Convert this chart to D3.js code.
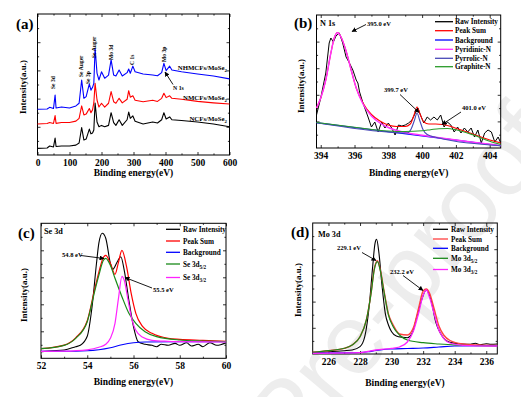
<!DOCTYPE html>
<html>
<head>
<meta charset="utf-8">
<script src="https://cdn.jsdelivr.net/npm/d3@7"></script>
<style>
body { margin: 0; background: #fff; }
svg text { font-family: "Liberation Serif", "Times New Roman", serif; font-weight: bold; fill: #000; }
svg text.wm { font-family: "Liberation Sans", Arial, sans-serif; font-weight: normal; fill: #ededed; }
</style>
</head>
<body>
<script>
// ---------- (a) survey spectra ----------
var surveyEnergy = [0, 30, 38, 50, 55, 58, 75, 100, 120, 130, 138, 145, 152, 162, 167, 172, 176, 180, 186, 192,
	200, 210, 222, 230, 238, 245, 255, 265, 280, 285, 290, 298, 305, 330, 360, 375, 388, 395, 402, 413,
	420, 450, 500, 550, 600];
var surveyNCF = [4.7, 5, 6.4, 5.7, 12, 6, 6.4, 6.4, 7, 8.5, 19.5, 10.6, 11.3, 18.4, 15, 15.6, 17.7, 36.8, 23.4, 20,
	21, 20, 21, 30, 23, 21, 25, 21, 25, 30.5, 26, 27.7, 24, 22, 23.4, 22.7, 25, 30, 25.5, 27,
	25, 24.5, 23.4, 22, 20];
var surveyNMCF = [22, 22.3, 23, 22.4, 27.9, 22.4, 23, 23, 24, 26, 34.8, 28.4, 29, 33, 30, 32, 36.9, 50.8, 39, 34,
	36.7, 34, 36.7, 45, 37.8, 36.7, 40.2, 37, 39.5, 45.6, 41, 42, 38.8, 37.8, 38.8, 38, 40.2, 43.8, 40.7, 42,
	40.2, 39.5, 38, 37, 36.2];
var surveyNHMCF = [32.4, 32.6, 33.8, 33, 42.5, 33.3, 34, 33.3, 34.8, 36.7, 53.2, 40.2, 41.4, 50.4, 46, 48, 50.8, 75.7, 58, 53.2,
	59, 54.4, 56.7, 67.4, 56.7, 56, 60.3, 56, 58.4, 61, 58, 63, 59, 57.4, 56.7, 56.2, 58.4, 65, 59.8, 63,
	60.3, 59, 57.4, 56, 54];
var surveyTicks = [0, 100, 200, 300, 400, 500, 600];
var surveyPeakLabels = ["Se 3d", "Se Auger", "Se 3p", "Se Auger", "Mo 3d", "C 1s", "Mo 3p"];
var surveyPeakEnergy = [50, 136, 158, 178, 230, 295, 395];

// ---------- (b) N 1s ----------
var n1sRawE = [393.75, 394.0, 394.3, 394.5, 394.6, 394.75, 394.9, 395.1, 395.3, 395.5, 395.7, 395.9, 396.1, 396.2, 396.3,
	396.5, 396.8, 397.0, 397.2, 397.4, 397.6, 397.8, 398.0, 398.2, 398.4, 398.6, 398.8, 399.0, 399.2, 399.4,
	399.6, 399.75, 399.9, 400.1, 400.3, 400.5, 400.7, 400.9, 401.1, 401.3, 401.5, 401.7, 401.9, 402.1, 402.3,
	402.5, 402.7, 402.9, 403.1, 403.3, 403.5, 403.7, 403.9, 404.1, 404.3, 404.5, 404.65];
var n1sRaw = [33, 50, 75, 105, 110, 106, 112, 115, 105, 91, 85, 78, 68, 65, 56,
	45, 31, 21, 26, 16, 26, 20, 25, 20, 13, 23, 22, 23, 25, 28,
	35, 40, 33, 25, 31, 28, 31, 28, 33, 21, 26, 23, 16, 21, 15,
	20, 16, 20, 11, 18, 5, 15, 18, 16, 6, 11, 5];
var n1sSumE = [393.75, 394, 394.3, 394.6, 394.8, 395, 395.2, 395.5, 395.8, 396.1, 396.5, 397, 397.5, 398, 398.5,
	399, 399.3, 399.5, 399.7, 399.9, 400.1, 400.4, 400.8, 401.2, 401.6, 402, 403, 404, 404.65];
var n1sSum = [40, 50, 68, 95, 110, 115.5, 111, 97, 78, 60, 45, 33.5, 27, 23, 21.5,
	21.5, 24, 32, 41, 33, 26, 24, 24, 23.5, 22, 19.8, 14, 8, 5];
var n1sBgE = [393.75, 396, 398, 400, 402, 404.65];
var n1sBg = [25.3, 20.5, 16.3, 12.1, 7.9, 2.3];
var n1sPyridinicE = [393.75, 394, 394.3, 394.6, 394.8, 395, 395.2, 395.5, 395.8, 396.1, 396.5, 397, 397.5, 398, 398.5,
	399, 400, 401, 402, 403, 404, 404.65];
var n1sPyridinic = [40, 50, 68, 95, 110, 115.3, 111, 97, 78, 60, 44, 32, 25, 20.5, 17.5,
	15.5, 12.8, 10.3, 8, 5.8, 3.7, 2.4];
var n1sPyrrolicE = [393.75, 398.5, 399.1, 399.35, 399.55, 399.7, 399.85, 400.05, 400.3, 400.8, 404.65];
var n1sPyrrolic = [25.3, 15.4, 15, 19, 28, 35, 28, 18.5, 13.5, 10.7, 2.3];
var n1sGraphiteE = [393.75, 396, 398, 399, 400, 400.5, 401, 401.5, 402, 403, 404, 404.65];
var n1sGraphite = [25.5, 20.8, 17, 16.5, 17.3, 18.3, 19.3, 19.5, 18.2, 13.2, 6.8, 3.5];
var n1sTicks = [394, 396, 398, 400, 402, 404];
var n1sLegend = ["Raw Intensity", "Peak Sum", "Background", "Pyridinic-N", "Pyrrolic-N", "Graphite-N"];

// ---------- (c) Se 3d ----------
var seRawE = [52, 52.5, 53, 53.5, 53.7, 54.0, 54.2, 54.4, 54.5, 54.65, 54.8, 55.0, 55.1, 55.3, 55.45, 55.6, 55.8,
	56.0, 56.2, 56.5, 56.8, 57.0, 57.2, 57.5, 57.8, 58.0, 58.3, 58.5, 58.8, 59.0, 59.3, 59.6, 60];
var seRaw = [6.6, 7.5, 8.3, 11.6, 13, 22, 50, 95, 115, 125, 120, 95, 89, 96.6, 101.6, 88, 58,
	31.6, 16.6, 14, 13, 11.6, 14, 13, 14.9, 13, 15.6, 12.3, 14, 11.6, 15.6, 13, 15.6];
var seSumE = [52, 53, 53.5, 54, 54.3, 54.5, 54.7, 54.8, 55.0, 55.2, 55.35, 55.5, 55.7, 55.9, 56.1, 56.4, 56.8, 57.5, 58, 59, 60];
var seSum = [9.6, 13.2, 20.5, 37.6, 67, 86, 101, 103, 95, 84, 96, 108, 91.6, 65, 45, 31.6, 25, 20, 19, 18, 17];
var seBgE = [52, 53, 54, 54.5, 55, 55.5, 56, 56.5, 58, 60];
var seBg = [7, 7, 7.5, 8.5, 10.5, 13.5, 15.5, 16.3, 16.5, 16.6];
var se52E = [52, 53, 53.5, 54, 54.3, 54.5, 54.7, 54.8, 55.0, 55.2, 55.5, 55.8, 56.1, 56.5, 57, 58, 59, 60];
var se52 = [9.6, 13, 20, 36.6, 65, 83, 98, 100, 93, 80, 61.6, 45, 35, 26.6, 21.6, 18.3, 17.3, 16.6];
var se32E = [52, 53, 54, 54.5, 54.8, 55.0, 55.2, 55.35, 55.5, 55.6, 55.75, 55.9, 56.1, 56.4, 56.8, 57.5, 58, 60];
var se32 = [7, 7.2, 8.5, 11, 14, 20, 35, 60, 82, 78, 60, 42, 28, 21, 18, 17, 16.6, 16.3];
var seTicks = [52, 54, 56, 58, 60];

// ---------- (d) Mo 3d ----------
var moRawE = [225, 226, 227, 227.5, 228, 228.3, 228.6, 228.8, 228.95, 229.05, 229.2, 229.4, 229.6, 229.8, 230, 230.3, 230.7,
	231, 231.3, 231.6, 231.9, 232.2, 232.5, 232.8, 233.1, 233.5, 234, 234.5, 235, 235.3, 235.6, 236, 236.3, 236.7];
var moRaw = [1.7, 2.3, 3.3, 4, 7.3, 17.3, 50.7, 87.3, 110.7, 114.7, 100.7, 67.3, 40.7, 29, 22.3, 18, 16.7,
	16.3, 20.7, 37.3, 54, 64, 54, 32, 20.7, 13, 10.7, 10, 9.7, 10.7, 9.3, 10.3, 9.7, 10];
var moSumE = [225, 226, 227, 227.5, 228, 228.4, 228.7, 228.9, 229.1, 229.3, 229.5, 229.8, 230.1, 230.5, 231, 231.4,
	231.7, 232.0, 232.2, 232.4, 232.7, 233.0, 233.3, 233.7, 234.5, 235.5, 236.7];
var moSum = [1.7, 3.3, 5.7, 9, 17.3, 34, 61, 85, 93.3, 83, 65, 40, 29, 20, 19, 27,
	45, 63, 65, 61, 45, 28, 19, 13.5, 10, 9, 8.5];
var moBgE = [225, 227, 228, 228.5, 229, 229.5, 230, 231, 232, 233, 234, 236.7];
var moBg = [1, 1.2, 1.5, 2.2, 3.5, 4.5, 5, 5.5, 6, 7, 8, 8.3];
var mo52E = [225, 226, 227, 227.5, 228, 228.4, 228.7, 228.9, 229.1, 229.3, 229.5, 229.8, 230.1, 230.5, 231, 232, 233, 234, 236.7];
var mo52 = [1.7, 3.3, 5.7, 9, 17.3, 34, 60.7, 84, 92.3, 82.3, 64, 39, 27.3, 19, 14, 11.3, 10, 9, 8];
var mo32E = [225, 228, 229, 230, 230.5, 231, 231.4, 231.7, 232.0, 232.2, 232.4, 232.7, 233.0, 233.3, 233.7, 234.5, 236.7];
var mo32 = [0.7, 1.3, 4, 5.7, 7, 12, 23.7, 40, 58.7, 64, 57, 40, 23.7, 15.7, 11, 8.7, 8];
var moTicks = [226, 228, 230, 232, 234, 236];

var W = 521, H = 397;
var svg = d3.select("body").append("svg").attr("width", W).attr("height", H);
svg.append("rect").attr("width", W).attr("height", H).attr("fill", "#fff");

svg.append("defs").append("marker")
	.attr("id", "arrow").attr("viewBox", "0 0 10 10")
	.attr("refX", 9).attr("refY", 5)
	.attr("markerWidth", 5.5).attr("markerHeight", 5.5)
	.attr("orient", "auto")
	.append("path").attr("d", "M0,0L10,5L0,10z").attr("fill", "#000");

// faint watermark behind the plots
svg.append("text").attr("class", "wm")
	.attr("transform", "translate(64,734) rotate(-50)")
	.attr("font-size", 100)
	.text("Journal Pre-proofs");

function panel(p) {
	var x = d3.scaleLinear().domain(p.xDomain).range([p.left, p.right]);
	var y = d3.scaleLinear().domain(p.yDomain).range([p.bottom, p.top]);
	var g = svg.append("g");
	var yMajor = d3.range(1, 5).map(function (i) { return p.yDomain[0] + (p.yDomain[1] - p.yDomain[0]) * i / 5; });
	var yMinor = d3.range(0, 5).map(function (i) { return p.yDomain[0] + (p.yDomain[1] - p.yDomain[0]) * (i + 0.5) / 5; });

	var bottom = g.append("g").attr("transform", "translate(0," + p.bottom + ")")
		.call(d3.axisBottom(x).tickValues(p.xTicks).tickSizeInner(-3).tickSizeOuter(0).tickPadding(4).tickFormat(d3.format("d")));
	bottom.attr("font-size", 9.5);
	g.append("g").attr("transform", "translate(0," + p.bottom + ")")
		.call(d3.axisBottom(x).tickValues(p.xMinor).tickSizeInner(-1.6).tickSizeOuter(0).tickFormat(""));
	g.append("g").attr("transform", "translate(0," + p.top + ")")
		.call(d3.axisTop(x).tickValues(p.xTicks).tickSizeInner(-3).tickSizeOuter(0).tickFormat(""));
	g.append("g").attr("transform", "translate(0," + p.top + ")")
		.call(d3.axisTop(x).tickValues(p.xMinor).tickSizeInner(-1.6).tickSizeOuter(0).tickFormat(""));
	g.append("g").attr("transform", "translate(" + p.left + ",0)")
		.call(d3.axisLeft(y).tickValues(yMajor).tickSizeInner(-3).tickSizeOuter(0).tickFormat(""));
	g.append("g").attr("transform", "translate(" + p.left + ",0)")
		.call(d3.axisLeft(y).tickValues(yMinor).tickSizeInner(-1.6).tickSizeOuter(0).tickFormat(""));
	g.append("g").attr("transform", "translate(" + p.right + ",0)")
		.call(d3.axisRight(y).tickValues(yMajor).tickSizeInner(-3).tickSizeOuter(0).tickFormat(""));
	g.append("g").attr("transform", "translate(" + p.right + ",0)")
		.call(d3.axisRight(y).tickValues(yMinor).tickSizeInner(-1.6).tickSizeOuter(0).tickFormat(""));
	g.selectAll(".domain").remove();
	g.selectAll(".tick line").attr("stroke", "#000").attr("stroke-width", 0.8);

	g.append("rect")
		.attr("x", p.left).attr("y", p.top)
		.attr("width", p.right - p.left).attr("height", p.bottom - p.top)
		.attr("fill", "none").attr("stroke", "#000").attr("stroke-width", 1);

	// axis titles and panel letter
	g.append("text").attr("x", (p.left + p.right) / 2).attr("y", p.xTitleY)
		.attr("text-anchor", "middle").attr("font-size", 9.5).text("Binding energy(eV)");
	g.append("text").attr("transform", "translate(" + p.yTitleX + "," + p.yTitleY + ") rotate(-90)")
		.attr("text-anchor", "middle").attr("dy", "0.35em").attr("font-size", 9).text("Intensity(a.u.)");
	g.append("text").attr("x", p.letterX).attr("y", p.letterY).attr("font-size", 15).text(p.letter);

	var curves = g.append("g");
	return { g: g, curves: curves, x: x, y: y };
}

function drawLine(pn, xs, ys, color, smooth, width) {
	var line = d3.line()
		.x(function (d) { return pn.x(d[0]); })
		.y(function (d) { return pn.y(d[1]); })
		.curve(smooth ? d3.curveMonotoneX : d3.curveLinear);
	pn.curves.append("path").datum(d3.zip(xs, ys))
		.attr("d", line).attr("fill", "none")
		.attr("stroke", color).attr("stroke-width", width || 1.1)
		.attr("stroke-linejoin", "round");
}

function label(g, x, y, txt, size, sub, anchor) {
	var t = g.append("text").attr("x", x).attr("y", y).attr("font-size", size)
		.attr("text-anchor", anchor || "start");
	t.append("tspan").text(txt);
	if (sub) t.append("tspan").attr("dy", size * 0.3).attr("font-size", size * 0.72).text(sub);
	return t;
}

function arrow(g, x1, y1, x2, y2) {
	g.append("line").attr("x1", x1).attr("y1", y1).attr("x2", x2).attr("y2", y2)
		.attr("stroke", "#000").attr("stroke-width", 0.9).attr("marker-end", "url(#arrow)");
}

function legend(pn, x0, x1, tx, rows, names, subs, colors) {
	names.forEach(function (n, i) {
		pn.g.append("line").attr("x1", x0).attr("x2", x1).attr("y1", rows[i]).attr("y2", rows[i])
			.attr("stroke", colors[i]).attr("stroke-width", 1.3);
		var t = label(pn.g, tx, rows[i], n, 7.2, subs ? subs[i] : null);
		t.attr("dy", "0.35em");
	});
}

// ---------- panel (a) ----------
var pa = panel({ left: 37.5, right: 229.5, top: 14, bottom: 155, xDomain: [0, 600], yDomain: [0, 100],
	xTicks: surveyTicks, xMinor: [50, 150, 250, 350, 450, 550],
	xTitleY: 176, yTitleX: 23, yTitleY: 87, letter: "(a)", letterX: 16, letterY: 29 });
drawLine(pa, surveyEnergy, surveyNCF, "#000", false, 1.1);
drawLine(pa, surveyEnergy, surveyNMCF, "#ff0000", false, 1.1);
drawLine(pa, surveyEnergy, surveyNHMCF, "#0000ff", false, 1.1);
var peakBottom = [89, 77, 84, 58, 60, 65, 62];
surveyPeakLabels.forEach(function (n, i) {
	pa.g.append("text")
		.attr("transform", "translate(" + pa.x(surveyPeakEnergy[i]) + "," + peakBottom[i] + ") rotate(-90)")
		.attr("dy", "0.35em").attr("font-size", 5.6).text(n);
});
label(pa.g, 227, 69.5, "NHMCFs/MoSe", 6.8, "2", "end");
label(pa.g, 227, 99.5, "NMCFs/MoSe", 6.8, "2", "end");
label(pa.g, 227, 121, "NCFs/MoSe", 6.8, "2", "end");
label(pa.g, 173, 90, "N 1s", 5.8);
arrow(pa.g, 173, 84.5, 165, 72);

// ---------- panel (b) ----------
var pb = panel({ left: 316.5, right: 500.7, top: 15, bottom: 148, xDomain: [393.75, 404.65], yDomain: [0, 133],
	xTicks: n1sTicks, xMinor: [395, 397, 399, 401, 403],
	xTitleY: 176, yTitleX: 301, yTitleY: 86, letter: "(b)", letterX: 294, letterY: 28 });
drawLine(pb, n1sRawE, n1sRaw, "#000", false, 1);
drawLine(pb, n1sSumE, n1sSum, "#ff0000", true);
drawLine(pb, n1sBgE, n1sBg, "#0000ff", true);
drawLine(pb, n1sPyridinicE, n1sPyridinic, "#ff33ff", true, 1.4);
drawLine(pb, n1sPyrrolicE, n1sPyrrolic, "#4848b8", true);
drawLine(pb, n1sGraphiteE, n1sGraphite, "#2a9a2a", true);
label(pb.g, 320, 26, "N 1s", 8.2);
label(pb.g, 367, 25.5, "395.0 eV", 6.5);
arrow(pb.g, 366, 24.5, 352, 31.5);
label(pb.g, 384, 92, "399.7 eV", 6.5);
arrow(pb.g, 400, 94.5, 419, 112.5);
label(pb.g, 462, 110, "401.0 eV", 6.5);
arrow(pb.g, 461, 112, 442, 124.5);
legend(pb, 435, 453, 455, [21.7, 30.7, 40, 49.3, 58.3, 66.7], n1sLegend, null,
	["#000", "#ff0000", "#0000ff", "#ff33ff", "#4848b8", "#2a9a2a"]);

// ---------- panel (c) ----------
var pc = panel({ left: 41, right: 226, top: 223.3, bottom: 358.3, xDomain: [52, 60], yDomain: [0, 135],
	xTicks: seTicks, xMinor: [53, 55, 57, 59],
	xTitleY: 385, yTitleX: 24, yTitleY: 295, letter: "(c)", letterX: 18, letterY: 238 });
drawLine(pc, seRawE, seRaw, "#000", true, 1.1);
drawLine(pc, seSumE, seSum, "#ff0000", true, 1.2);
drawLine(pc, seBgE, seBg, "#0000ff", true);
drawLine(pc, se52E, se52, "#1a8a1a", true, 1.2);
drawLine(pc, se32E, se32, "#ff22ff", true, 1.2);
label(pc.g, 44, 234, "Se 3d", 8.2);
label(pc.g, 62, 257, "54.8 eV", 6.5);
arrow(pc.g, 81, 255.5, 104, 258.5);
label(pc.g, 153, 291.5, "55.5 eV", 6.5);
arrow(pc.g, 152, 288, 125, 277.5);
legend(pc, 166, 180, 183, [229.3, 241, 252.3, 264, 277.5], ["Raw Intensity", "Peak Sum", "Background", "Se 3d", "Se 3d"],
	[null, null, null, "5/2", "3/2"], ["#000", "#ff0000", "#0000ff", "#1a8a1a", "#ff22ff"]);

// ---------- panel (d) ----------
var pd = panel({ left: 312.7, right: 497.3, top: 223, bottom: 354, xDomain: [225, 236.7], yDomain: [0, 131],
	xTicks: moTicks, xMinor: [227, 229, 231, 233, 235],
	xTitleY: 386, yTitleX: 298, yTitleY: 290, letter: "(d)", letterX: 291, letterY: 237 });
drawLine(pd, moRawE, moRaw, "#000", true, 1.1);
drawLine(pd, moSumE, moSum, "#ff4040", true, 1.4);
drawLine(pd, moBgE, moBg, "#0000ff", true);
drawLine(pd, mo52E, mo52, "#1a8a1a", true, 1.2);
drawLine(pd, mo32E, mo32, "#ff22ff", true, 1.3);
label(pd.g, 318, 236.5, "Mo 3d", 8.2);
label(pd.g, 337, 250, "229.1 eV", 6.5);
arrow(pd.g, 362, 252.5, 376, 260.5);
label(pd.g, 390, 274, "232.2 eV", 6.5);
arrow(pd.g, 403, 275.5, 423, 290.5);
legend(pd, 433, 448, 451, [229.3, 239, 248.3, 258.3, 269.5], ["Raw Intensity", "Peak Sum", "Background", "Mo 3d", "Mo 3d"],
	[null, null, null, "5/2", "3/2"], ["#000", "#ff4040", "#0000ff", "#1a8a1a", "#ff22ff"]);
</script>
</body>
</html>
